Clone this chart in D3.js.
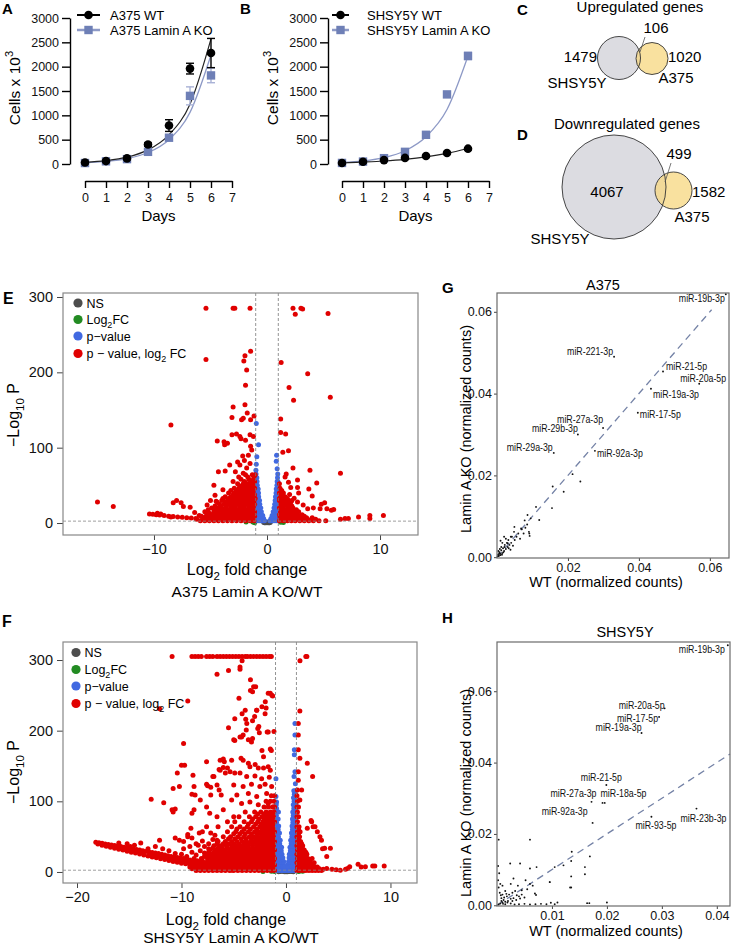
<!DOCTYPE html>
<html><head><meta charset="utf-8">
<script src="https://cdn.jsdelivr.net/npm/d3@7"></script>
<style>body{margin:0;background:#fff}svg{display:block}</style>
</head><body>
<svg id="c" width="733" height="946"></svg>
<script>
// ================= DATA =================
const days = [0,1,2,3,4,5,6];
const dayTicks = [0,1,2,3,4,5,6,7];
const cellTicks = [0,500,1000,1500,2000,2500,3000];
const a375WT = [30,60,115,400,790,1960,2280];
const a375WTErr = [12,12,18,35,120,110,300];
const a375KO = [20,55,100,250,540,1400,1820];
const a375KOErr = [10,10,12,20,40,185,150];
const a375WTFit = [33,68,140,290,600,1230,2570];
const a375KOFit = [26,54,112,236,500,1060,2240];
const shWT = [20,45,80,125,165,225,315];
const shWTErr = [6,6,8,10,12,15,20];
const shKO = [22,50,120,250,600,1430,2220];
const shKOErr = [6,6,10,15,20,30,75];
const shWTFit = [22,40,62,95,145,218,318];
const shKOFit = [33,65,132,272,560,1120,2220];

const vennSets = ["SHSY5Y","A375"];
const upCounts = [1479,106,1020];   // SHSY5Y only, overlap, A375 only
const downCounts = [4067,499,1582];

// volcano: [log2FC, -log10 P]
const eNS = [[-0.3,1],[-0.15,0.5],[0,0.3],[0.15,0.5],[0.3,1],[-0.05,1.2],[0.08,1],[-0.22,0.2],[0.22,0.2]];
const eLFC = [[-1.85,1.5],[-1.25,1.2],[1.2,1],[1.45,0.8],[-1.1,0.5]];
const ePStrag = [[-0.95,132],[-0.75,104],[-0.9,88],[-0.95,78],[-0.98,70],[0.85,90],[0.82,82],[0.9,72]];
const ePRows = [[65,[-0.97,0.95]],[60,[-0.97,-0.9,0.93]],[55,[-0.97,-0.88,0.9,0.96]],[50,[-0.96,-0.86,0.88,0.96]],
 [45,[-0.95,-0.85,-0.78,0.82,0.93]],[40,[-0.95,-0.85,-0.75,0.8,0.92]],[35,[-0.95,-0.84,-0.74,0.75,0.88,0.96]],
 [30,[-0.94,-0.84,-0.74,-0.66,0.72,0.85,0.95]],[25,[-0.93,-0.83,-0.73,-0.64,0.68,0.8,0.92]],
 [20,[-0.92,-0.82,-0.72,-0.62,-0.55,0.62,0.75,0.88]],[15,[-0.9,-0.8,-0.7,-0.6,-0.5,0.55,0.68,0.82,0.95]],
 [10,[-0.9,-0.78,-0.66,-0.55,-0.45,-0.38,0.45,0.58,0.72,0.86]],[6,[-0.88,-0.75,-0.62,-0.5,-0.4,-0.3,0.35,0.5,0.65,0.8,0.95]],
 [3,[-0.85,-0.7,-0.55,-0.42,-0.3,-0.22,0.25,0.4,0.55,0.7,0.85]]];
const eBothPts = [
 [-5.4,285],[-3.0,285],[-2.85,285],[-1.5,285],[2.3,285],[3.0,285],[3.15,284],[2.5,277],[5.4,278],
 [-5.4,217],[-1.45,228],[-1.95,222],[-2.05,215],[-1.8,203],[-1.9,183],
 [1.25,213],[3.6,198],[1.95,180],[2.35,163],[5.6,167],
 [-3.0,154],[-3.1,140],[-1.95,157],[-1.75,146],[-2.1,139],[-2.25,137],[-1.45,137],[-1.15,142],[-8.5,130],
 [-1.5,117],[-1.2,115],[-2.4,115],[-3.1,117],[-1.9,110],[-1.35,97],[-1.65,90],[-2.15,89],[-1.45,102],
 [-2.7,118],[-2.3,112],[-3.8,108],[-3.75,104],[-4.4,109],[-3.5,106],
 [-2.4,77],[-3.3,77],[-2.8,68],[-2.1,66],[-2.5,61],[-1.8,73],[-1.5,79],[-3.0,55],[-1.95,54],[-2.25,44],
 [-2.6,81],[-2.0,83],[-3.7,69],[-4.3,68],[-4.7,50],[-3.9,44],[-4.6,37],[-5.0,30],[-4.5,29],[-5.3,24],
 [-7.6,27],[-6.8,21],[-8.0,30],[-8.3,27],[-7.4,22],[-15.0,28],[-13.6,22],
 [-10.4,12],[-10.1,11.5],[-9.8,11],[-9.5,10.5],[-9.1,10],[-8.7,9],[-8.3,8.5],[-7.9,8],[-7.5,7.5],[-7.1,7],[-6.7,6.5],[-6.3,6],[-9.7,13],[-9.4,12],[-8.5,8],[-6.0,10],[-6.4,14],
 [1.21,138],[1.21,120],[1.65,118],[1.4,94],[1.9,96],[2.3,73],[3.8,70],[6.5,66],[1.6,61],[1.9,54],[2.1,47],[2.7,57],[2.7,47],[2.8,40],[3.7,45],[4.0,36],[4.4,53],[5.1,27],[4.8,25],[3.6,19],[4.1,20],[4.7,19],[5.3,19],[5.9,18],[5.7,17],
 [6.5,5],[6.9,6],[7.2,6],[8.1,8],[9.1,6],[9.1,10],[10.3,10],[2.4,33],[2.7,28],[1.7,65],[3.2,24],[2.0,38],[2.2,30]];
const eBothRows = [
 [3,[-5.9,-5.5,-5.1,-4.7,-4.3,-3.9,-3.5,-3.1,-2.7,-2.3,-1.9,-1.5,-1.15,1.1,1.45,1.8,2.15,2.5,2.9,3.3,3.7,4.1,4.6,5.2]],
 [5,[-6.2,-5.7,-5.3,-4.9,-4.5,-4.1,-3.7,-3.3,-2.9,-2.5,-2.1,-1.7,-1.35,1.3,1.65,2.0,2.4,2.8,3.2,3.6,4.3]],
 [7,[-5.6,-5.2,-4.8,-4.4,-4.0,-3.6,-3.2,-2.8,-2.4,-2.0,-1.6,-1.2,1.15,1.5,1.85,2.2,2.6,3.0,3.5,4.0]],
 [9,[-5.8,-5.4,-5.0,-4.6,-4.2,-3.8,-3.4,-3.0,-2.6,-2.2,-1.8,-1.4,-1.1,1.3,1.65,2.0,2.4,2.85,3.3]],
 [11,[-5.3,-4.9,-4.5,-4.1,-3.7,-3.3,-2.9,-2.5,-2.1,-1.7,-1.3,1.1,1.45,1.8,2.2,2.6,3.1]],
 [13,[-5.1,-4.7,-4.3,-3.9,-3.5,-3.1,-2.7,-2.3,-1.9,-1.5,-1.15,1.3,1.65,2.0,2.45]],
 [15,[-5.5,-4.7,-4.3,-3.9,-3.5,-3.1,-2.7,-2.3,-1.9,-1.5,-1.1,1.2,1.55,1.9,2.3,2.8]],
 [17.5,[-5.2,-4.6,-4.2,-3.7,-3.3,-2.9,-2.5,-2.1,-1.7,-1.3,1.3,1.7,2.1,2.6]],
 [20,[-4.9,-4.4,-4.0,-3.6,-3.2,-2.8,-2.4,-2.0,-1.6,-1.2,1.1,1.45,1.85,2.3]],
 [22.5,[-4.6,-4.1,-3.6,-3.2,-2.8,-2.4,-2.0,-1.6,-1.25,1.3,1.8,2.2]],
 [25,[-4.2,-3.8,-3.4,-3.0,-2.6,-2.2,-1.8,-1.4,-1.1,1.2,1.6,2.0]],
 [27.5,[-4.4,-3.7,-3.3,-2.9,-2.5,-2.1,-1.7,-1.3,1.3,1.7,2.1]],
 [30,[-4.0,-3.5,-3.1,-2.7,-2.3,-1.9,-1.5,-1.15,1.1,1.5,1.9]],
 [32.5,[-3.9,-3.4,-2.9,-2.5,-2.1,-1.75,-1.35,-1.05,1.1,1.4,1.8]],
 [35,[-3.7,-3.2,-2.8,-2.4,-2.0,-1.6,-1.2,1.2,1.6]],
 [37.5,[-3.0,-2.6,-2.2,-1.8,-1.4,-1.1,1.35]],
 [40,[-3.4,-2.9,-2.5,-2.1,-1.7,-1.3,1.1,1.45]],
 [43,[-3.2,-2.7,-2.3,-1.9,-1.5,-1.2,1.3]],
 [46,[-2.9,-2.5,-2.0,-1.7,-1.35,-1.1,1.15]],
 [49,[-2.3,-1.9,-1.5,-1.2]],
 [52,[-2.6,-2.1,-1.7,-1.3,1.1]],
 [55,[-2.0,-1.45,-1.1]],
 [58,[-2.3,-1.6,-1.2]],
 [61,[-1.7,-1.15]],
 [64,[-1.9,-1.3,-1.05]]];

const fNS = [[-0.5,0.5],[-0.3,1],[-0.15,0.3],[0,0.2],[0.15,0.4],[0.3,0.8],[0.5,0.5],[-0.7,0.3],[0.7,0.3]];
const fLFC = [[-2.2,0.5],[-1.4,1],[1.33,1.5],[1.6,1.2],[1.2,0.6],[-1.1,0.8]];
const fPStrag = [[-0.96,132],[-0.96,107],[-0.9,99],[0.86,210],[0.86,194],[0.8,173],[0.8,166],[0.86,142],[0.77,135],[0.9,125]];
const fPRows = [[115,[0.75,0.9]],[110,[0.8,0.92]],[105,[0.72,0.88]],[100,[0.78,0.93]],[95,[-0.93,0.7,0.85,0.95]],[90,[-0.9,0.75,0.9]],[85,[-0.95,-0.72,0.65,0.8,0.93]],
 [80,[-0.92,0.7,0.85]],[75,[-0.95,-0.75,0.62,0.77,0.9]],[70,[-0.9,0.66,0.8,0.94]],[65,[-0.97,-0.85,-0.7,0.58,0.72,0.86,0.95]],[60,[-0.9,-0.75,0.62,0.76,0.9]],[55,[-0.95,-0.8,-0.62,0.52,0.66,0.8,0.93]],
 [50,[-0.88,-0.72,0.56,0.7,0.84]],[45,[-0.95,-0.8,-0.65,-0.55,0.45,0.6,0.74,0.88]],[40,[-0.88,-0.72,-0.6,0.5,0.66,0.82,0.95]],[35,[-0.95,-0.82,-0.68,-0.52,-0.42,0.38,0.52,0.66,0.8,0.94]],
 [30,[-0.88,-0.72,-0.58,-0.45,0.42,0.56,0.7,0.84]],[25,[-0.95,-0.8,-0.65,-0.5,-0.38,0.32,0.46,0.6,0.74,0.88]],[20,[-0.86,-0.7,-0.55,-0.42,-0.3,0.3,0.44,0.58,0.72,0.86]],[15,[-0.92,-0.78,-0.62,-0.46,-0.32,-0.22,0.25,0.38,0.52,0.66,0.8,0.94]],
 [11,[-0.85,-0.68,-0.52,-0.36,-0.24,0.22,0.36,0.5,0.64,0.78,0.92]],[7,[-0.9,-0.72,-0.55,-0.38,-0.25,-0.15,0.16,0.3,0.44,0.58,0.72,0.86]],[2,[-0.85,-0.65,-0.45,-0.3,-0.18,-0.1,0.1,0.24,0.38,0.52,0.66,0.8,0.94]]];
const fTopRow = [-10.9,-9.0,-8.7,-8.4,-8.1,-7.6,-7.3,-7.0,-6.6,-6.3,-6.0,-5.7,-5.4,-5.1,-4.8,-4.5,-4.2,-3.9,-3.7,-3.4,-3.1,-2.8,-2.5,-2.2,-1.9,-1.6,-1.4,1.9,2.0];
const fBothPts = [
 [-4.2,299],[-4.4,287],[1.34,299],[-6.6,280],[-5.5,285],[-4.4,290],
 [-3.4,272],[-3.1,262],[-3.2,255],[-4.5,246],[-1.5,253],[-1.27,249],[-1.98,241],[-2.3,234],[-2.8,229],[-1.9,232],[-3.9,229],[-3.85,216],[-3.2,214],[-3.75,210],[-2.7,203],[-1.8,198],[-1.15,199],[-4.1,194],[-4.25,191],[-5.0,187],[-3.2,189],[-3.3,184],[-2.55,197],
 [-2.3,172],[-1.5,174],[-1.4,172],[-2.15,163],[-4.3,161],[-4.1,158],[-3.6,154],[-2.95,152],[-3.45,149],[-2.65,147],[-2.15,147],[-1.7,149],[-1.5,144],
 [-5.35,142],[-4.4,140],[-3.76,135],[-2.97,136],[-2.33,132],[-1.6,134],[-5.0,123],[-4.1,121],[-3.3,124],[-2.5,121],[-2.0,124],[-1.37,121],[-4.7,109],[-3.6,111],[-2.8,107],[-1.85,111],[-5.2,102],[-4.25,97],[-3.45,99],[-2.65,95],[-1.7,97],[-1.2,92],
 [-9.4,242],[-12.1,231],[-5.5,204],[-4.9,186],[-9.8,182],[-9.7,151],[-10.4,140],[-10.2,121],[-12.9,103],[-11.7,98],[-10.8,85],[-10.6,89],[-10.0,151],[-10.9,88],[-10.8,118],
 [-7.6,156],[-6.3,158],[-6.0,160],[-8.8,121],[-9.0,110],[-8.7,109],[-7.5,122],[-7.2,120],[-7.0,135],[-6.4,145],[-6.0,148],[-5.8,140],[-7.2,109],[-6.4,116],[-6.2,109],
 [-8.9,137],[-8.2,102],[-7.6,124],[-6.9,135],[-6.6,123],[-6.3,144],[-5.9,156],[-5.6,147],[-5.2,158],[-4.9,140],
 [-4.4,191],[-3.8,201],[-3.6,187],[-3.0,220],[-2.8,229],[-2.0,224],[-2.6,206],[-1.7,198],[-4.2,224],[-4.9,217],[-3.4,257],[-2.9,262],[-1.7,253],[-1.35,250],
 [-9.0,83],[-8.8,88],[-7.6,92],[-7.3,83],[-6.6,78],[-6.0,88],[-5.6,71],[-5.0,78],[-6.5,64],[-7.6,64],[-8.3,55],[-9.4,50],[-10.2,45],[-9.1,62],
 [-13.9,41],[-12.1,45],[-10.6,48],[-14.9,36],[-9.4,53],[-8.0,57],[-7.2,55],[-6.6,45],[-9.8,43],[-9.0,48],[-8.4,38],[-7.8,36],
 [-10.0,25],[-9.5,22],[-9.0,28],[-8.6,24],[-8.2,30],[-7.8,27],[-7.4,33],[-9.8,33],[-9.2,36],[-8.6,40],[-8.0,44],[-7.4,40],[-7.0,46],[-6.8,52],[-7.2,22],[-8.8,19],[-9.6,17],[-10.6,26],[-11.2,30],[-11.8,33],[-12.5,36],[-13.2,33],[-14.5,38],[-16.0,41],[-15.2,40],
 [-18.2,42],[-17.6,40.5],[-17.0,39],[-16.4,37.5],[-15.8,36],[-15.2,34],[-14.6,32.5],[-14.0,31],[-13.4,29],[-12.8,27.5],[-12.2,26],[-11.6,24],[-11.0,22],[-10.4,20.5],[-9.8,19],[-9.2,17],[-8.6,15],[-8.0,13],[-7.4,11.5],[-6.8,10],[-6.2,8.5],[-5.6,7],
 [-17.9,41.2],[-17.3,39.7],[-16.7,38.2],[-16.1,36.7],[-15.5,35],[-14.9,33.2],[-14.3,31.7],[-13.7,30],[-13.1,28.2],[-12.5,26.7],[-11.9,25],[-11.3,23],[-10.7,21.2],[-10.1,19.7],[-9.5,18],[-8.9,16],[-8.3,14],[-7.7,12.2],[-7.1,10.7],[-6.5,9.2],[-5.9,7.7],[-5.3,6.3],[-4.7,5],[-4.1,4],
 [-18.0,39.5],[-17.2,36.5],[-16.4,33.5],[-15.6,31],[-14.8,28],[-14.0,25.5],[-13.2,22.5],[-12.4,20],[-11.6,17.5],[-10.8,15],[-10.0,12.5],[-9.2,10.5],[-8.4,8.5],[-7.6,6.5],[-6.8,5],[-6.0,3.5],[-5.2,2.5],
 [-17.6,38],[-16.8,35],[-16.0,32.2],[-15.2,29.5],[-14.4,26.7],[-13.6,24],[-12.8,21.2],[-12.0,18.7],[-11.2,16.2],[-10.4,13.7],[-9.6,11.5],[-8.8,9.5],[-8.0,7.5],[-7.2,5.7],[-6.4,4.2],
 [-16.8,37],[-15.0,31],[-13.8,27.5],[-12.6,23.5],[-11.4,20.5],[-10.2,16.5],[-9.4,14],[-8.6,12],[-7.8,10],[-7.0,8.5],
 [-17.4,38.5],[-16.2,35],[-15.4,32.5],[-14.6,30],[-14.2,28.5],[-13.0,25],[-12.2,22.5],[-11.8,21.5],[-11.0,18.5],[-10.6,17.5],[-9.8,15],[-9.0,13],[-8.2,11],[-7.4,9],[-6.6,7],
 [1.33,228],[1.18,210],[1.18,194],[1.18,173],[1.33,161],[1.18,142],[1.18,130],[2.04,154],[2.55,135],[1.5,116],[1.33,102],[2.46,71],[2.78,64],[2.04,62],[3.25,50],[3.4,45],[3.7,33.5],[4.25,33.5],[3.0,57],[2.6,64],[2.4,73],[3.9,22],[3.5,33],
 [3.57,4],[3.9,5],[4.4,4],[5.7,4],[5.9,5],[6.1,7.5],[6.9,11],[7.2,7],[7.6,7.5],[8.3,8.5],[8.5,8.5],[9.4,8.5],[4.8,3],[5.2,2.5]];
const fBothRows = [
 [2,[-8.6,-8.2,-7.8,-7.4,-7.0,-6.6,-6.2,-5.8,-5.4,-5.0,-4.6,-4.2,-3.8,-3.4,-3.0,-2.6,-2.2,-1.8,-1.4,-1.1,1.05,1.3,1.6,1.9,2.2,2.5,2.8,3.1,3.4]],
 [4.5,[-9.0,-8.4,-8.0,-7.6,-7.2,-6.8,-6.4,-6.0,-5.6,-5.2,-4.8,-4.4,-4.0,-3.6,-3.2,-2.8,-2.4,-2.0,-1.6,-1.25,1.2,1.5,1.8,2.1,2.45,2.8,3.2]],
 [7,[-9.2,-8.7,-8.2,-7.7,-7.2,-6.8,-6.4,-6.0,-5.6,-5.2,-4.8,-4.4,-4.0,-3.6,-3.2,-2.8,-2.4,-2.0,-1.6,-1.2,1.1,1.35,1.65,2.0,2.35,2.7,3.0]],
 [10,[-9.0,-8.5,-8.0,-7.5,-7.0,-6.6,-6.2,-5.8,-5.4,-5.0,-4.6,-4.2,-3.8,-3.4,-3.0,-2.6,-2.2,-1.8,-1.4,-1.1,1.2,1.5,1.8,2.2,2.5]],
 [13,[-8.8,-8.3,-7.8,-7.3,-6.9,-6.5,-6.1,-5.7,-5.3,-4.9,-4.5,-4.1,-3.7,-3.3,-2.9,-2.5,-2.1,-1.7,-1.3,1.05,1.3,1.6,1.95,2.3,2.7]],
 [16,[-8.5,-8.0,-7.5,-7.1,-6.7,-6.3,-5.9,-5.5,-5.1,-4.7,-4.3,-3.9,-3.5,-3.1,-2.7,-2.3,-1.9,-1.5,-1.2,1.2,1.55,1.9,2.3]],
 [19,[-8.1,-7.5,-7.0,-6.6,-6.2,-5.8,-5.4,-5.0,-4.6,-4.2,-3.8,-3.4,-3.0,-2.6,-2.2,-1.8,-1.4,-1.1,1.1,1.4,1.7,2.1,2.5]],
 [22,[-7.8,-7.3,-6.8,-6.4,-6.0,-5.6,-5.2,-4.8,-4.4,-4.0,-3.6,-3.2,-2.8,-2.4,-2.0,-1.6,-1.25,1.2,1.55,1.9]],
 [25,[-7.6,-7.1,-6.7,-6.3,-5.9,-5.5,-5.1,-4.7,-4.3,-3.9,-3.5,-3.1,-2.7,-2.3,-1.9,-1.5,-1.2,1.05,1.3,1.6,2.0]],
 [28,[-7.4,-6.9,-6.5,-6.1,-5.7,-5.3,-4.9,-4.5,-4.1,-3.7,-3.3,-2.9,-2.5,-2.1,-1.7,-1.35,1.2,1.5,1.9]],
 [31,[-7.3,-6.8,-6.3,-5.9,-5.4,-5.0,-4.6,-4.2,-3.8,-3.4,-3.0,-2.6,-2.2,-1.8,-1.4,-1.1,1.1,1.4,1.75]],
 [34,[-7.0,-6.5,-6.1,-5.6,-5.2,-4.8,-4.4,-4.0,-3.6,-3.2,-2.8,-2.4,-2.0,-1.6,-1.25,1.25,1.55]],
 [37,[-6.9,-6.3,-5.7,-5.2,-4.8,-4.4,-4.0,-3.6,-3.2,-2.8,-2.4,-2.0,-1.6,-1.2,1.05,1.3,1.6]],
 [40,[-6.6,-6.0,-5.5,-5.0,-4.5,-4.0,-3.6,-3.2,-2.8,-2.4,-2.0,-1.6,-1.25,1.2,1.5]],
 [43,[-6.5,-5.8,-5.2,-4.7,-4.2,-3.8,-3.4,-3.0,-2.6,-2.2,-1.8,-1.4,-1.1,1.1,1.4]],
 [47,[-5.5,-4.9,-4.3,-3.8,-3.3,-2.9,-2.5,-2.1,-1.7,-1.3,1.2]],
 [50,[-6.0,-5.3,-4.6,-4.0,-3.5,-3.1,-2.7,-2.3,-1.9,-1.5,-1.2,1.05,1.3]],
 [54,[-5.0,-4.4,-3.9,-3.3,-2.8,-2.4,-2.0,-1.6,-1.25,1.2]],
 [57,[-5.6,-4.8,-4.2,-3.6,-3.0,-2.6,-2.2,-1.8,-1.4,-1.1,1.1,1.35]],
 [61,[-4.7,-4.0,-3.4,-2.8,-2.3,-1.9,-1.5,-1.2,1.2]],
 [64,[-5.2,-4.4,-3.7,-3.1,-2.5,-2.1,-1.7,-1.3,1.05,1.25]],
 [68,[-3.6,-2.9,-2.4,-2.0,-1.6,-1.25]],
 [71,[-4.9,-4.0,-3.3,-2.7,-2.2,-1.8,-1.4,-1.1,1.1]],
 [75,[-3.2,-2.6,-2.1,-1.7,-1.35]],
 [78,[-4.5,-3.5,-2.9,-2.3,-1.9,-1.5,-1.2,1.05,1.2]],
 [82,[-2.7,-2.1,-1.7,-1.3]],
 [85,[-3.9,-3.0,-2.4,-1.9,-1.5,-1.15,1.1]],
 [92,[-2.1,-1.7,-1.3,-1.1,1.05,1.2]],
 [100,[-1.9,-1.5,-1.15,1.1]],
 [108,[-1.4,-1.1,1.05]],
 [116,[1.1]]];
const pTicks = [0,100,200,300];
const eFCTicks = [-10,0,10];
const fFCTicks = [-20,-10,0,10];
const fcCutoff = 1;
const pCutoff = 2.5;

// miRNA scatter: WT vs Lamin A KO normalized counts
const gNames = ["miR-19b-3p","miR-221-3p","miR-21-5p","miR-20a-5p","miR-19a-3p","miR-17-5p","miR-27a-3p","miR-29b-3p","miR-29a-3p","miR-92a-3p"];
const gWT = [0.0645,0.033,0.0468,0.057,0.0434,0.0397,0.0299,0.0228,0.016,0.0276];
const gKO = [0.0643,0.049,0.0454,0.0424,0.0412,0.0353,0.0316,0.030,0.0255,0.026];
const gOther = [[0.0213,0.0203],[0.0235,0.0185],[0.0188,0.016],[0.0157,0.0173],[0.0155,0.012],[0.011,0.0123],[0.0119,0.0091],[0.0086,0.0103],[0.0091,0.0058],[0.0068,0.007],[0.0049,0.0074],[0.0039,0.005],[0.003,0.0034],[0.0021,0.0025],
 [0.0005,0.0003],[0.001,0.0008],[0.0015,0.001],[0.002,0.0015],[0.0008,0.002],[0.0012,0.0025],[0.0018,0.0012],[0.0025,0.002],[0.003,0.0025],[0.0022,0.003],[0.0028,0.0035],[0.0035,0.003],[0.004,0.0035],[0.0032,0.0042],[0.0015,0.0035],[0.001,0.004],[0.0007,0.0012],[0.0003,0.0006],[0.0045,0.0028],[0.005,0.0042],[0.0055,0.005],[0.006,0.0058],[0.0048,0.0062],[0.0065,0.0045],[0.007,0.0068],[0.0075,0.0058],[0.008,0.0072],[0.0085,0.008],[0.0078,0.009],[0.009,0.0062],[0.0095,0.0095],[0.0092,0.0052],[0.0042,0.005],[0.0025,0.0045],[0.002,0.005],[0.0017,0.0022],[0.0012,0.0017],[0.0006,0.0009],[0.0033,0.0022],[0.0038,0.0018],[0.0004,0.0015],[0.0009,0.0005],[0.0014,0.0006],[0.0002,0.0002]];
const gTicksX = [0.02,0.04,0.06];
const gTicksY = [0,0.02,0.04,0.06];
const gLineEnd = 0.0605;

const hNames = ["miR-19b-3p","miR-20a-5p","miR-17-5p","miR-19a-3p","miR-21-5p","miR-27a-3p","miR-18a-5p","miR-92a-3p","miR-93-5p","miR-23b-3p"];
const hWT = [0.042,0.0305,0.0295,0.0263,0.0199,0.0172,0.0192,0.0174,0.0281,0.0363];
const hKO = [0.0729,0.0552,0.0528,0.0483,0.0337,0.029,0.0287,0.0231,0.0248,0.0271];
const hOther = [[0.0196,0.0287],[0.006,0.0184],[0.0003,0.0184],[0.0136,0.015],[0.0169,0.0137],[0.0135,0.0124],[0.0121,0.0112],[0.0105,0.0107],[0.0072,0.0107],[0.006,0.0103],[0.0042,0.0117],[0.016,0.0107],[0.016,0.0087],[0.0135,0.0081],[0.0135,0.005],[0.0096,0.0065],[0.0069,0.0033],[0.0071,0.0029],[0.0024,0.0117],
 [0.0003,0.0002],[0.0006,0.0005],[0.001,0.0008],[0.0015,0.001],[0.002,0.0012],[0.0025,0.0018],[0.003,0.002],[0.0035,0.0015],[0.004,0.0025],[0.0045,0.003],[0.005,0.0022],[0.0012,0.0015],[0.0008,0.002],[0.0018,0.0025],[0.0022,0.003],[0.0028,0.0035],[0.0033,0.004],[0.0015,0.004],[0.001,0.003],[0.0005,0.0035],[0.0003,0.005],[0.0002,0.007],[0.0004,0.009],[0.0002,0.011],[0.0006,0.006],[0.001,0.0055],[0.0025,0.006],[0.003,0.0075],[0.0038,0.0055],[0.0055,0.0045],[0.006,0.006],[0.0065,0.0055],[0.0052,0.007],
 [0.004,0.0003],[0.005,0.0004],[0.006,0.0002],[0.007,0.0003],[0.008,0.0004],[0.009,0.0003],[0.0098,0.0007],[0.0105,0.0003],[0.011,0.0008],[0.0164,0.0006],[0.0168,0.0006],[0.02,0.0008],[0.0133,0.005],[0.0096,0.0065],[0.0015,0.0003],[0.0025,0.0005],[0.0032,0.0002],
 [0.0008,0.0012],[0.0013,0.0022],[0.0019,0.0008],[0.0028,0.0012],[0.0036,0.0028],[0.0042,0.0019],[0.0007,0.0028],[0.0017,0.0032],[0.0045,0.0042],[0.0011,0.0004]];
const hTicksX = [0.01,0.02,0.03,0.04];
const hTicksY = [0,0.02,0.04,0.06];
const hLineEnd = 0.0424;

// ================= DRAWING =================
const FONT = "'Liberation Sans', Arial, Helvetica, sans-serif";
const svg = d3.select("#c").attr("font-family", FONT);
const flatRows = rows => rows.flatMap(([p, xs]) => xs.map(x => [x, p]));

function rich(sel, parts, size) {
  let shift = 0;
  parts.forEach(p => {
    const s = typeof p === "string" ? {t: p} : p;
    const target = s.sub ? size * 0.32 : s.sup ? -size * 0.42 : 0;
    const ts = sel.append("tspan").text(s.t).attr("dy", target - shift);
    if (s.sub || s.sup) ts.attr("font-size", size * 0.72);
    shift = target;
  });
  return sel;
}
function label(x, y, txt, size, opts = {}) {
  const t = svg.append("text").attr("x", x).attr("y", y).attr("font-size", size)
    .attr("text-anchor", opts.anchor || "start").attr("fill", opts.fill || "#000");
  if (opts.bold) t.attr("font-weight", "bold");
  if (opts.rot) t.attr("transform", `rotate(-90,${x},${y})`);
  if (Array.isArray(txt)) rich(t, txt, size); else t.text(txt);
  return t;
}

// ---------- A & B growth ----------
const KO_MARK = "#6e7fb6", KO_LINE = "#8d99c6", KO_ERR = "#a9b2d6";
function growth(cfg) {
  const x = d3.scaleLinear().domain([0, 7]).range(cfg.xRange);
  const y = d3.scaleLinear().domain([0, 3000]).range([164, 18]);
  const g = svg.append("g");
  const ya = g.append("g").attr("transform", `translate(${cfg.axisX},0)`)
    .call(d3.axisLeft(y).tickValues(cellTicks).tickFormat(d3.format("d")).tickSize(8).tickSizeOuter(0).tickPadding(3));
  const xa = g.append("g").attr("transform", "translate(0,181)")
    .call(d3.axisBottom(x).tickValues(dayTicks).tickFormat(d3.format("d")).tickSize(7).tickSizeOuter(0).tickPadding(5));
  [ya, xa].forEach(a => {
    a.attr("font-family", FONT).attr("font-size", 12.5);
    a.select(".domain").attr("stroke", "#000").attr("stroke-width", 1.4);
    a.selectAll(".tick line").attr("stroke", "#000").attr("stroke-width", 1.4);
    a.selectAll(".tick text").attr("fill", "#111");
  });
  const line = d3.line().x((d, i) => x(days[i])).y(d => y(d)).curve(d3.curveMonotoneX);
  g.append("path").attr("d", line(cfg.koFit)).attr("fill", "none").attr("stroke", KO_LINE).attr("stroke-width", 1.3);
  g.append("path").attr("d", line(cfg.wtFit)).attr("fill", "none").attr("stroke", "#222").attr("stroke-width", 1.2);
  const err = (vals, errs, col) => {
    const eg = g.append("g").attr("stroke", col).attr("stroke-width", 1.4);
    vals.forEach((v, i) => {
      const cx = x(days[i]), y1 = y(v + errs[i]), y2 = y(Math.max(0, v - errs[i]));
      eg.append("line").attr("x1", cx).attr("x2", cx).attr("y1", y1).attr("y2", y2);
      eg.append("line").attr("x1", cx - 4).attr("x2", cx + 4).attr("y1", y1).attr("y2", y1);
      eg.append("line").attr("x1", cx - 4).attr("x2", cx + 4).attr("y1", y2).attr("y2", y2);
    });
  };
  err(cfg.ko, cfg.koErr, KO_ERR);
  err(cfg.wt, cfg.wtErr, "#000");
  g.append("g").selectAll("rect").data(cfg.ko).join("rect")
    .attr("x", (d, i) => x(days[i]) - 4.2).attr("y", d => y(d) - 4.2).attr("width", 8.4).attr("height", 8.4).attr("fill", KO_MARK);
  g.append("g").selectAll("circle").data(cfg.wt).join("circle")
    .attr("cx", (d, i) => x(days[i])).attr("cy", d => y(d)).attr("r", 4.3).attr("fill", "#000");
  const L = cfg.leg;
  g.append("line").attr("x1", L.x1).attr("x2", L.x2).attr("y1", 15).attr("y2", 15).attr("stroke", "#000").attr("stroke-width", 2);
  g.append("circle").attr("cx", (L.x1 + L.x2) / 2).attr("cy", 15).attr("r", 4.3).attr("fill", "#000");
  g.append("line").attr("x1", L.x1).attr("x2", L.x2).attr("y1", 30).attr("y2", 30).attr("stroke", KO_LINE).attr("stroke-width", 2.5);
  g.append("rect").attr("x", (L.x1 + L.x2) / 2 - 4.2).attr("y", 25.8).attr("width", 8.4).attr("height", 8.4).attr("fill", KO_MARK);
  label(L.tx, 19.5, cfg.names[0], 13);
  label(L.tx, 34.5, cfg.names[1], 13);
  label(cfg.ylabX, 88, ["Cells x 10", {t: "3", sup: true}], 15.5, {anchor: "middle", rot: true});
  label((cfg.xRange[0] + cfg.xRange[1]) / 2, 221, "Days", 15, {anchor: "middle"});
}
growth({xRange: [85, 232], axisX: 70, wt: a375WT, wtErr: a375WTErr, ko: a375KO, koErr: a375KOErr,
  wtFit: a375WTFit, koFit: a375KOFit, leg: {x1: 77, x2: 100, tx: 110}, names: ["A375 WT", "A375 Lamin A KO"], ylabX: 20});
growth({xRange: [342, 489], axisX: 328, wt: shWT, wtErr: shWTErr, ko: shKO, koErr: shKOErr,
  wtFit: shWTFit, koFit: shKOFit, leg: {x1: 332, x2: 349, tx: 367}, names: ["SHSY5Y WT", "SHSY5Y Lamin A KO"], ylabX: 278});
label(2, 14, "A", 15, {bold: true});
label(240, 14, "B", 15, {bold: true});

// ---------- C & D Venn ----------
function venn(cfg) {
  svg.append("text").attr("x", cfg.titleX).attr("y", cfg.titleY).attr("text-anchor", "middle").attr("font-size", 15).text(cfg.title);
  svg.append("circle").attr("cx", cfg.c1[0]).attr("cy", cfg.c1[1]).attr("r", cfg.r1).attr("fill", "#dcdce1");
  svg.append("circle").attr("cx", cfg.c2[0]).attr("cy", cfg.c2[1]).attr("r", cfg.r2).attr("fill", "#f7d984").attr("fill-opacity", 0.78);
  [[cfg.c1, cfg.r1], [cfg.c2, cfg.r2]].forEach(([c, r]) => svg.append("circle").attr("cx", c[0]).attr("cy", c[1]).attr("r", r)
    .attr("fill", "none").attr("stroke", "#333").attr("stroke-width", 0.9));
  const [a, b, c] = cfg.counts;
  label(cfg.aPos[0], cfg.aPos[1], String(a), 15, {anchor: cfg.aPos[2]});
  label(cfg.bPos[0], cfg.bPos[1], String(b), 15, {anchor: "middle"});
  label(cfg.cPos[0], cfg.cPos[1], String(c), 15);
  svg.append("line").attr("x1", cfg.lead[0]).attr("y1", cfg.lead[1]).attr("x2", cfg.lead[2]).attr("y2", cfg.lead[3]).attr("stroke", "#555").attr("stroke-width", 0.8);
  label(cfg.s1[0], cfg.s1[1], vennSets[0], 15, {anchor: "middle"});
  label(cfg.s2[0], cfg.s2[1], vennSets[1], 15, {anchor: "middle"});
}
venn({title: "Upregulated genes", titleX: 640, titleY: 12, c1: [619, 58], r1: 21.5, c2: [652, 58.5], r2: 16, counts: upCounts,
  aPos: [597, 62, "end"], bPos: [656, 33], cPos: [668, 62], lead: [645, 37, 640, 52], s1: [577, 88], s2: [676, 83]});
venn({title: "Downregulated genes", titleX: 627, titleY: 129, c1: [614, 187], r1: 52, c2: [673.5, 190.5], r2: 18.5, counts: downCounts,
  aPos: [607, 197, "middle"], bPos: [679, 159], cPos: [692, 197], lead: [671, 163, 665, 182], s1: [560, 244], s2: [692, 222]});
label(517, 15, "C", 15, {bold: true});
label(517, 140, "D", 15, {bold: true});

// ---------- E & F volcano ----------
const COL = {ns: "#4d4d4d", lfc: "#228b22", p: "#4169e1", both: "#e00000"};
function volcano(cfg) {
  const x = d3.scaleLinear().domain(cfg.xDom).range([cfg.L, cfg.R]);
  const y = d3.scaleLinear().domain(cfg.yDom).range([cfg.B, cfg.T]);
  const g = svg.append("g");
  const ya = g.append("g").attr("transform", `translate(${cfg.L},0)`)
    .call(d3.axisLeft(y).tickValues(pTicks).tickSize(6).tickSizeOuter(0).tickPadding(4));
  const xa = g.append("g").attr("transform", `translate(0,${cfg.B})`)
    .call(d3.axisBottom(x).tickValues(cfg.xTicks).tickSize(5).tickSizeOuter(0).tickPadding(4));
  [ya, xa].forEach(a => {
    a.select(".domain").remove();
    a.attr("font-family", FONT).attr("font-size", 14.5);
    a.selectAll(".tick line").attr("stroke", "#444");
    a.selectAll(".tick text").attr("fill", "#111");
  });
  [[cfg.ns, COL.ns], [cfg.lfc, COL.lfc], [cfg.p, COL.p], [cfg.both, COL.both]].forEach(([data, col]) =>
    g.append("g").selectAll("circle").data(data).join("circle")
      .attr("cx", d => x(d[0])).attr("cy", d => y(d[1])).attr("r", 2.5).attr("fill", col));
  [-fcCutoff, fcCutoff].forEach(v => g.append("line").attr("x1", x(v)).attr("x2", x(v)).attr("y1", cfg.T).attr("y2", cfg.B)
    .attr("stroke", "#777").attr("stroke-width", 0.8).attr("stroke-dasharray", "3,2"));
  g.append("line").attr("x1", cfg.L).attr("x2", cfg.R).attr("y1", y(pCutoff)).attr("y2", y(pCutoff))
    .attr("stroke", "#888").attr("stroke-width", 0.8).attr("stroke-dasharray", "3,2");
  g.append("rect").attr("x", cfg.L).attr("y", cfg.T).attr("width", cfg.R - cfg.L).attr("height", cfg.B - cfg.T)
    .attr("fill", "none").attr("stroke", "#888").attr("stroke-width", 1.2);
  const items = [[COL.ns, ["NS"]], [COL.lfc, ["Log", {t: "2", sub: true}, "FC"]], [COL.p, ["p\u2212value"]],
    [COL.both, ["p \u2212 value, log", {t: "2", sub: true}, " FC"]]];
  items.forEach(([col, txt], i) => {
    const ly = cfg.legY[i];
    g.append("circle").attr("cx", cfg.legX).attr("cy", ly).attr("r", 4.6).attr("fill", col);
    label(cfg.legX + 8.5, ly + 4.5, txt, 12.5);
  });
  label(19, cfg.ylabY, ["\u2212Log", {t: "10", sub: true}, " P"], 16, {anchor: "middle", rot: true});
  label(cfg.xlab[0], cfg.xlab[1], ["Log", {t: "2", sub: true}, " fold change"], 16, {anchor: "middle"});
  label(cfg.sub[0], cfg.sub[1], cfg.subText, 15.5, {anchor: "middle"});
}
volcano({L: 63, R: 418, T: 293, B: 535, xDom: [-18.05, 13.36], yDom: [-15.9, 305.3], xTicks: eFCTicks,
  ns: eNS, lfc: eLFC, p: ePStrag.concat(flatRows(ePRows)), both: eBothPts.concat(flatRows(eBothRows)),
  legX: 78, legY: [303, 319.5, 336, 353.5], ylabY: 415, xlab: [247, 575], sub: [247, 597], subText: "A375 Lamin A KO/WT"});
volcano({L: 63, R: 417, T: 642, B: 883, xDom: [-21.34, 12.54], yDom: [-15.6, 325.5], xTicks: fFCTicks,
  ns: fNS, lfc: fLFC, p: fPStrag.concat(flatRows(fPRows)), both: fTopRow.map(v => [v, 305]).concat(fBothPts, flatRows(fBothRows)),
  legX: 76, legY: [652.5, 669.5, 686, 703.5], ylabY: 772, xlab: [226, 925], sub: [231, 943], subText: "SHSY5Y Lamin A KO/WT"});
label(3, 304, "E", 16, {bold: true});
label(2, 627, "F", 16, {bold: true});

// ---------- G & H miRNA scatter ----------
const NARROW = "'Liberation Sans Narrow', 'Arial Narrow', " + FONT;
let narrowOK = false;
(function () {
  const t1 = svg.append("text").attr("font-size", 10).attr("font-family", NARROW).text("miR-221-3p");
  const t2 = svg.append("text").attr("font-size", 10).attr("font-family", FONT).text("miR-221-3p");
  narrowOK = t1.node().getComputedTextLength() < t2.node().getComputedTextLength() * 0.95;
  t1.remove(); t2.remove();
})();
const gLayout = {"miR-19b-3p": ["end", -1, 8], "miR-221-3p": ["end", -1, -2], "miR-21-5p": ["start", 3, -2],
  "miR-20a-5p": ["start", -19, -2], "miR-19a-3p": ["start", 2, 9], "miR-17-5p": ["start", 2, 5],
  "miR-27a-3p": ["end", 0, -5], "miR-29b-3p": ["end", 0, -2], "miR-29a-3p": ["end", -1, -2], "miR-92a-3p": ["start", 2, 6]};
const hLayout = {"miR-19b-3p": ["end", -3, 8], "miR-20a-5p": ["end", 0, 1], "miR-17-5p": ["end", -1, 5],
  "miR-19a-3p": ["end", 0, -2], "miR-21-5p": ["middle", -5, -4], "miR-27a-3p": ["end", 5, -5],
  "miR-18a-5p": ["start", -2, -6], "miR-92a-3p": ["end", -5, -8], "miR-93-5p": ["start", -16, 12], "miR-23b-3p": ["start", -16, 13]};
function mir(cfg) {
  const x = d3.scaleLinear().domain(cfg.xDom).range([cfg.L, cfg.R]);
  const y = d3.scaleLinear().domain(cfg.yDom).range([cfg.B, cfg.T]);
  const g = svg.append("g");
  const fmt = d3.format(".2f");
  const ya = g.append("g").attr("transform", `translate(${cfg.L},0)`)
    .call(d3.axisLeft(y).tickValues(cfg.yTicks).tickFormat(fmt).tickSize(3).tickSizeOuter(0).tickPadding(2));
  const xa = g.append("g").attr("transform", `translate(0,${cfg.B})`)
    .call(d3.axisBottom(x).tickValues(cfg.xTicks).tickFormat(fmt).tickSize(3).tickSizeOuter(0).tickPadding(2));
  [ya, xa].forEach(a => {
    a.select(".domain").remove();
    a.attr("font-family", FONT).attr("font-size", 12.5);
    a.selectAll(".tick line").attr("stroke", "#444");
    a.selectAll(".tick text").attr("fill", "#111");
  });
  g.append("line").attr("x1", x(0)).attr("y1", y(0)).attr("x2", x(cfg.lineEnd)).attr("y2", y(cfg.lineEnd))
    .attr("stroke", "#7482a6").attr("stroke-width", 1.3).attr("stroke-dasharray", "7,5");
  const pts = cfg.other.concat(cfg.wt.map((v, i) => [v, cfg.ko[i]]));
  g.append("g").selectAll("circle").data(pts).join("circle")
    .attr("cx", d => x(d[0])).attr("cy", d => y(d[1])).attr("r", 0.95).attr("fill", "#111");
  cfg.names.forEach((n, i) => {
    const [anc, dx, dy] = cfg.layout[n];
    const t = g.append("text").attr("x", x(cfg.wt[i]) + dx).attr("y", y(cfg.ko[i]) + dy).attr("text-anchor", anc)
      .attr("fill", "#111").attr("font-size", 11).text(n);
    if (narrowOK) t.attr("font-family", NARROW);
    else {
      t.attr("font-family", FONT);
      const w = t.node().getComputedTextLength();
      t.attr("textLength", w * 0.8).attr("lengthAdjust", "spacingAndGlyphs");
    }
  });
  g.append("rect").attr("x", cfg.L).attr("y", cfg.T).attr("width", cfg.R - cfg.L).attr("height", cfg.B - cfg.T)
    .attr("fill", "none").attr("stroke", "#6b6b6b").attr("stroke-width", 1.2);
  label(cfg.title[0], cfg.title[1], cfg.title[2], 14.5, {anchor: "middle"});
  label(471, cfg.ylabY, "Lamin A KO (normalized counts)", 14.5, {anchor: "middle", rot: true});
  label(606, cfg.xlabY, "WT (normalized counts)", 14.5, {anchor: "middle"});
}
mir({L: 497, R: 729, T: 293, B: 558, xDom: [0, 0.0654], yDom: [-0.0002, 0.0646], xTicks: gTicksX, yTicks: gTicksY,
  lineEnd: gLineEnd, other: gOther, names: gNames, wt: gWT, ko: gKO, layout: gLayout,
  title: [603, 290, "A375"], ylabY: 429, xlabY: 587});
mir({L: 497, R: 730, T: 642, B: 906, xDom: [0, 0.0424], yDom: [-0.0002, 0.0738], xTicks: hTicksX, yTicks: hTicksY,
  lineEnd: hLineEnd, other: hOther, names: hNames, wt: hWT, ko: hKO, layout: hLayout,
  title: [625, 637, "SHSY5Y"], ylabY: 793, xlabY: 936});
label(442, 293, "G", 15, {bold: true});
label(442, 623, "H", 15, {bold: true});
</script>
</body></html>
